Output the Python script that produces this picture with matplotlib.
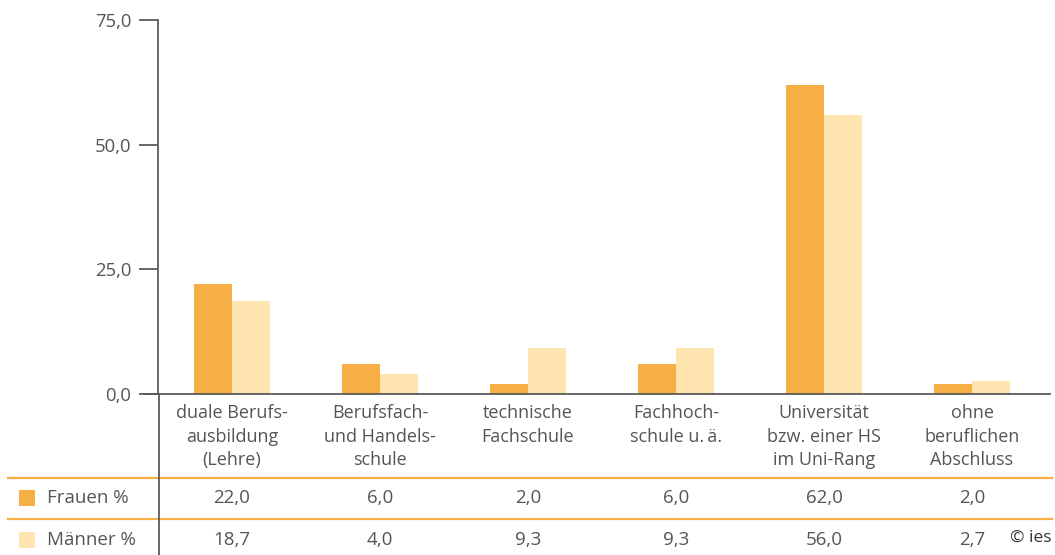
import matplotlib
matplotlib.use("Agg")
import matplotlib.pyplot as plt
from matplotlib.lines import Line2D
from matplotlib.patches import Rectangle
import matplotlib.transforms as mtransforms
import numpy as np

categories = ["duale Berufs-\nausbildung\n(Lehre)", "Berufsfach-\nund Handels-\nschule",
              "technische\nFachschule", "Fachhoch-\nschule u.\u2009ä.",
              "Universität\nbzw. einer HS\nim Uni-Rang", "ohne\nberuflichen\nAbschluss"]
frauen = [22.0, 6.0, 2.0, 6.0, 62.0, 2.0]
maenner = [18.7, 4.0, 9.3, 9.3, 56.0, 2.7]
series_names = ["Frauen %", "Männer %"]
yticks = [0, 25, 50, 75]

C_F = "#F5AF45"
C_M = "#FEE4AE"
TXT = "#555555"
AX = "#5a5a5a"
ORANGE = "#F5AF45"

plt.rcParams['font.family'] = ['Open Sans', 'DejaVu Sans']

W, H = 1055, 555
fig = plt.figure(figsize=(W/100, H/100), dpi=100)
ax = fig.add_axes([158/W, (H-394)/H, (1046-158)/W, (394-20)/H])

x = np.arange(len(categories))
bw = 0.257
ax.bar(x - bw/2, frauen, bw, color=C_F, linewidth=0)
ax.bar(x + bw/2, maenner, bw, color=C_M, linewidth=0)
ax.set_xlim(-0.5, len(categories) - 0.5)
ax.set_ylim(0, 75)
ax.set_yticks(yticks)
ax.set_yticklabels([f"{v:.1f}".replace(".", ",") for v in yticks], fontsize=13.3, color=TXT)
ax.tick_params(axis='y', length=14, width=1.3, color=AX, pad=5)
ax.set_xticks([])
for s in ["top", "right", "bottom"]:
    ax.spines[s].set_visible(False)
ax.spines["left"].set_color(AX)
ax.spines["left"].set_linewidth(1.3)
ax.patch.set_alpha(0)

def fx(px):
    return px / W
def fy(py):
    return (H - py) / H

# extended vertical line and x axis line
fig.add_artist(Line2D([fx(158.5), fx(158.5)], [fy(394), fy(555)], color=AX, lw=1.3))
fig.add_artist(Line2D([fx(144), fx(1050)], [fy(394), fy(394)], color=AX, lw=1.3))
# table lines
for yy in [478, 519]:
    fig.add_artist(Line2D([fx(8), fx(1052)], [fy(yy), fy(yy)], color=ORANGE, lw=1.6, zorder=0))

trans = mtransforms.blended_transform_factory(ax.transData, fig.transFigure)
for i, lab in enumerate(categories):
    fig.text(x[i], fy(404), lab, transform=trans, ha='center', va='top',
             fontsize=13, color=TXT, linespacing=1.4)
    fig.text(x[i], fy(498), f"{frauen[i]:.1f}".replace(".", ","), transform=trans,
             ha='center', va='center', fontsize=13.5, color=TXT)
    fig.text(x[i], fy(540), f"{maenner[i]:.1f}".replace(".", ","), transform=trans,
             ha='center', va='center', fontsize=13.5, color=TXT)

for name, col, yy in [(series_names[0], C_F, 498), (series_names[1], C_M, 540)]:
    fig.add_artist(Rectangle((fx(19), fy(yy + 8)), 16/W, 16/H, transform=fig.transFigure,
                             facecolor=col, edgecolor='none'))
    fig.text(fx(47), fy(yy), name, ha='left', va='center', fontsize=13.5, color=TXT)

fig.text(fx(1052), fy(538), "© ies", ha='right', va='center', fontsize=12.5, color="#333333")

fig.savefig("out.png", dpi=100)
